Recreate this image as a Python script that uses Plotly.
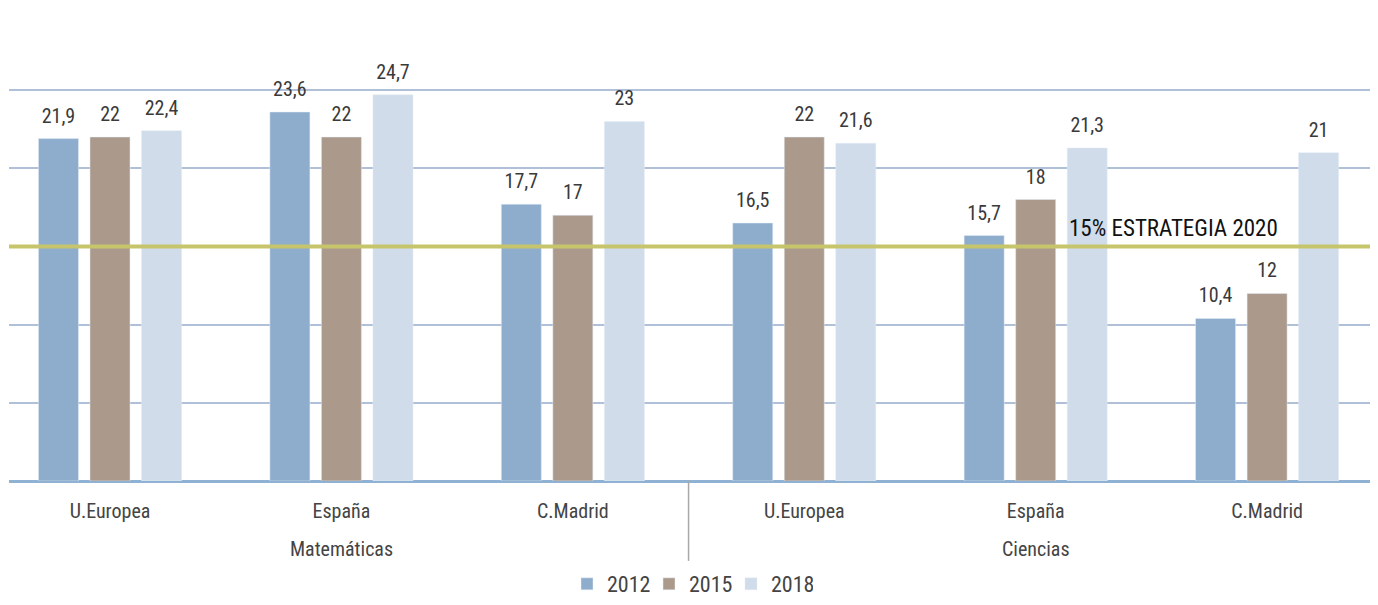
import plotly.graph_objects as go

# Values (percent)
regions = ["U.Europea", "España", "C.Madrid", "U.Europea", "España", "C.Madrid"]
subjects = ["Matemáticas", "Ciencias"]
years = ["2012", "2015", "2018"]
v2012 = [21.9, 23.6, 17.7, 16.5, 15.7, 10.4]
v2015 = [22, 22, 17, 22, 18, 12]
v2018 = [22.4, 24.7, 23, 21.6, 21.3, 21]
target = 15

colors = ["#8eadcc", "#ab9a8c", "#d0dcea"]
font_main = "Liberation Sans Narrow, Roboto Condensed, Roboto, sans-serif"


def fmt(v):
    return (f"{v:g}").replace(".", ",")


xpos = list(range(len(regions)))

fig = go.Figure()
for name, vals, col in zip(years, [v2012, v2015, v2018], colors):
    fig.add_trace(go.Bar(
        x=xpos, y=vals, name=name, marker_color=col, offsetgroup=name,
    ))
# value labels, grouped like the bars
for name, vals in zip(years, [v2012, v2015, v2018]):
    fig.add_trace(go.Scatter(
        x=xpos, y=vals, mode="markers+text", offsetgroup=name,
        marker=dict(size=16, opacity=0), showlegend=False, hoverinfo="skip",
        text=[fmt(v) for v in vals], textposition="top center",
        textfont=dict(size=20, color="#3a3a3a", family=font_main),
        cliponaxis=False,
    ))

# target line
fig.add_shape(type="line", xref="paper", yref="y", x0=0, x1=1, y0=target, y1=target,
              line=dict(color="#c6c56c", width=4))
fig.add_annotation(x=4.136, y=target, xref="x", yref="y", text="15% ESTRATEGIA 2020",
                   showarrow=False, xanchor="left", yanchor="bottom", yshift=2,
                   font=dict(size=23, color="#111111", family=font_main))

# subject labels under middle region, plus divider
for i, s in enumerate(subjects):
    fig.add_annotation(x=1 + 3 * i, y=-0.145, xref="x", yref="paper", text=s,
                       showarrow=False, yanchor="middle",
                       font=dict(size=20, color="#444444", family=font_main))
fig.add_shape(type="line", xref="x", yref="paper", x0=2.5, x1=2.5, y0=0, y1=-0.17,
              line=dict(color="#a8a8a8", width=1.5))

fig.update_layout(
    width=1370, height=597,
    margin=dict(l=1, r=7, t=3, b=124, autoexpand=False),
    plot_bgcolor="white", paper_bgcolor="white",
    barmode="group", bargap=0.332, bargroupgap=0.223,
    scattermode="group", scattergap=0.332,
    showlegend=True,
    legend=dict(orientation="h", x=0.5, xanchor="center", yref="container",
                y=-0.012, yanchor="bottom", entrywidth=37,
                font=dict(size=22, color="#444444", family=font_main)),
    font=dict(family=font_main),
)
fig.update_xaxes(
    tickvals=xpos, ticktext=regions, range=[-0.4365, 5.449],
    showgrid=False, zeroline=False, showline=False, ticks="",
    ticklabelstandoff=16, automargin=False,
    tickfont=dict(size=20, color="#444444", family=font_main),
)
fig.update_yaxes(
    range=[0, 30.06], dtick=5, showticklabels=False, automargin=False,
    showgrid=True, gridcolor="#b0c0d8", gridwidth=2,
    zeroline=True, zerolinecolor="#8fb2d4", zerolinewidth=3,
)

fig.write_html("out.html")
